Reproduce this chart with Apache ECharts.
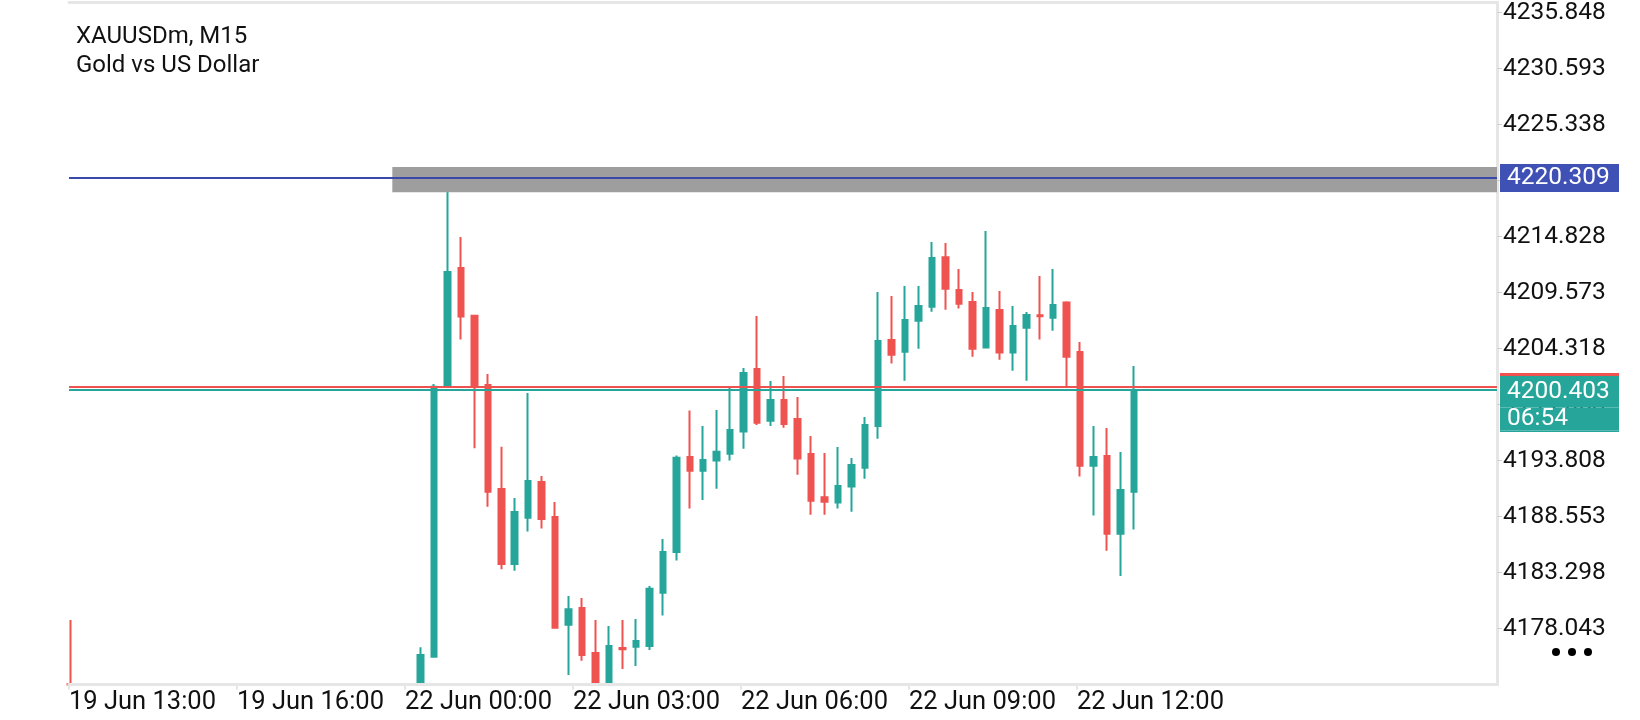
<!DOCTYPE html>
<html>
<head>
<meta charset="utf-8">
<script src="https://cdn.jsdelivr.net/npm/echarts@6.0.0/dist/echarts.min.js"></script>
<style>
  html, body { margin: 0; padding: 0; background: #ffffff; }
  #main { width: 1640px; height: 720px; }
</style>
</head>
<body>
<div id="main"></div>
<script>
// ---------- DATA ----------
const symbolTitle = 'XAUUSDm, M15';
const symbolName = 'Gold vs US Dollar';

// number of 15-minute bar slots across the plot
const slotCount = 106;
// slot index of each visible candle
const barPos = [0, 26, 27, 28, 29, 30, 31, 32, 33, 34, 35, 36, 37, 38, 39, 40, 41, 42, 43, 44, 45, 46, 47, 48, 49, 50,
  51, 52, 53, 54, 55, 56, 57, 58, 59, 60, 61, 62, 63, 64, 65, 66, 67, 68, 69, 70, 71, 72, 73, 74, 75, 76, 77, 78, 79];
// values below the visible price range are held at the bottom edge of the view
const opens = [4172.80, 4172.79, 4175.40, 4200.79, 4211.86, 4207.39, 4200.89, 4191.13, 4184.09, 4188.44, 4191.78, 4188.50,
  4178.40, 4179.97, 4175.74, 4172.79, 4176.21, 4176.34, 4176.40, 4181.40, 4185.22, 4194.13, 4192.85, 4193.79, 4194.44,
  4196.51, 4202.39, 4197.54, 4199.48, 4197.70, 4194.41, 4190.35, 4189.85, 4191.35, 4193.13, 4197.04, 4205.11, 4204.01,
  4206.92, 4208.23, 4212.86, 4209.80, 4208.67, 4204.39, 4207.92, 4203.92, 4206.26, 4207.42, 4207.20, 4208.61, 4203.98,
  4193.31, 4194.22, 4186.94, 4190.88];
const closes = [4172.79, 4175.56, 4200.73, 4211.49, 4207.30, 4200.73, 4190.88, 4184.09, 4188.97, 4191.88, 4188.31, 4178.12,
  4179.84, 4175.56, 4172.79, 4176.40, 4176.09, 4176.87, 4181.78, 4185.22, 4194.07, 4192.85, 4193.85, 4194.63, 4196.66,
  4202.01, 4197.35, 4199.48, 4197.23, 4193.98, 4190.03, 4189.94, 4191.41, 4193.38, 4197.13, 4205.01, 4203.73, 4206.98,
  4208.30, 4212.80, 4209.92, 4208.51, 4204.29, 4208.11, 4203.92, 4206.42, 4207.45, 4207.33, 4208.39, 4203.54, 4193.31,
  4194.13, 4186.94, 4191.03, 4200.403];
const lows = [4172.79, 4172.79, 4175.40, 4200.79, 4205.14, 4194.94, 4189.47, 4183.59, 4183.47, 4187.13, 4187.41, 4178.12,
  4173.68, 4175.02, 4172.79, 4172.79, 4174.25, 4174.53, 4176.03, 4179.25, 4184.41, 4189.29, 4190.10, 4191.16, 4193.79,
  4194.91, 4197.13, 4197.04, 4196.88, 4192.47, 4188.72, 4188.72, 4189.29, 4189.00, 4192.10, 4195.85, 4202.89, 4201.29,
  4204.29, 4207.76, 4207.95, 4208.05, 4203.54, 4204.39, 4203.26, 4202.23, 4201.29, 4205.14, 4205.98, 4200.73, 4192.29,
  4188.63, 4185.34, 4182.97, 4187.32];
const highs = [4178.84, 4176.28, 4200.98, 4219.02, 4214.77, 4207.45, 4201.92, 4195.10, 4190.28, 4200.13, 4192.35, 4189.91,
  4181.09, 4180.90, 4178.84, 4178.27, 4178.84, 4178.93, 4182.03, 4186.44, 4194.26, 4198.48, 4197.04, 4198.54, 4200.73,
  4202.48, 4207.36, 4201.26, 4201.73, 4199.76, 4196.10, 4194.50, 4195.07, 4194.04, 4197.88, 4209.61, 4209.23, 4210.17,
  4210.17, 4214.30, 4214.21, 4211.77, 4209.61, 4215.33, 4209.70, 4208.30, 4207.73, 4211.11, 4211.77, 4208.73, 4204.92,
  4197.04, 4196.85, 4194.60, 4202.67];

// price axis
const yMin = 4172.788;
const yMax = 4236.81;
const yTicks = [4178.043, 4183.298, 4188.553, 4193.808, 4199.063, 4204.318, 4209.573, 4214.828, 4220.083, 4225.338, 4230.593, 4235.848];

// time labels (one every label slot)
const timeLabels = ['19 Jun 13:00', '19 Jun 16:00', '22 Jun 00:00', '22 Jun 03:00', '22 Jun 06:00', '22 Jun 09:00', '22 Jun 12:00'];
const labelSlots = [0, 1, 2, 3, 4, 5, 6];
const labelSlotMax = 8.5;

// horizontal levels
const levelLine = 4220.309;
const askPrice = 4200.69;
const bidPrice = 4200.403;
const barCountdown = '06:54';
const zoneTop = 4221.34;
const zoneBottom = 4218.99;
const zoneStartBar = 24;

// ---------- STYLE ----------
const UP = '#26A69A';
const DOWN = '#EF5350';
const BLUE_LINE = '#3949AB';
const BLUE_BOX = '#3F51B5';
const FRAME = '#E6E6E6';
const FONT = 'Roboto';
const NUM_FS = 24.5;

const slots = Array.from({ length: slotCount }, (_, i) => 'b' + i);
const candleData = slots.map(() => '-');
barPos.forEach((p, k) => { candleData[p] = [opens[k], closes[k], lows[k], highs[k]]; });

const boxW = 112;
const boxPad = [0, 0, 0, 7];
function row(h, fs, bg) {
  const o = { lineHeight: h, height: h, fontSize: fs, width: boxW, padding: boxPad, color: '#ffffff', fontFamily: FONT, align: 'left' };
  if (bg) o.backgroundColor = bg;
  return o;
}

const chart = echarts.init(document.getElementById('main'));
chart.setOption({
  animation: false,
  backgroundColor: '#ffffff',
  title: {
    text: symbolTitle + '\n' + symbolName,
    left: 71, top: 17,
    textStyle: { fontFamily: FONT, fontSize: 24, fontWeight: 'normal', color: '#111111', lineHeight: 29 }
  },
  grid: [
    { left: 69, right: 143, top: 2, bottom: 35.5 },          // frame, axes, levels
    { left: 63.77, width: 106 * 13.462, top: 2, bottom: 35.5 } // candles
  ],
  xAxis: [
    {
      gridIndex: 0, type: 'category', data: slots.concat(['b' + slotCount]), boundaryGap: false, position: 'bottom',
      z: 10,
      axisLine: { show: true, onZero: false, lineStyle: { color: FRAME, width: 3 } },
      axisTick: { show: false }, axisLabel: { show: false }, splitLine: { show: false }
    },
    {
      gridIndex: 0, type: 'value', min: 0, max: labelSlotMax, position: 'bottom',
      axisLine: { show: false, onZero: false },
      axisTick: { show: true, customValues: labelSlots, length: 5, lineStyle: { color: FRAME, width: 2 } },
      axisLabel: {
        show: true, customValues: labelSlots, align: 'left', margin: 5,
        fontFamily: FONT, fontSize: 25.5, color: '#111111',
        formatter: v => timeLabels[Math.round(v)] || ''
      },
      splitLine: { show: false }
    },
    {
      gridIndex: 0, type: 'value', min: 0, max: 1, position: 'top',
      axisLine: { show: true, onZero: false, lineStyle: { color: FRAME, width: 3 } },
      axisTick: { show: false }, axisLabel: { show: false }, splitLine: { show: false }
    },
    {
      gridIndex: 1, type: 'category', data: slots, boundaryGap: true, show: false
    }
  ],
  yAxis: [
    {
      gridIndex: 0, type: 'value', position: 'right', min: yMin, max: yMax, scale: true,
      axisLine: { show: true, onZero: false, lineStyle: { color: FRAME, width: 3 } },
      axisTick: { show: true, customValues: yTicks, length: 5, lineStyle: { color: '#d0d0d0', width: 1 } },
      axisLabel: {
        customValues: yTicks, margin: 6, fontFamily: FONT, fontSize: NUM_FS, color: '#111111',
        padding: [6, 0, 0, 0],
        formatter: v => Number(v).toFixed(3)
      },
      splitLine: { show: false }
    },
    { gridIndex: 1, type: 'value', min: yMin, max: yMax, scale: true, show: false, splitLine: { show: false } }
  ],
  series: [
    {
      type: 'candlestick',
      xAxisIndex: 3, yAxisIndex: 1,
      z: 2,
      data: candleData,
      barWidth: 6,
      clip: true,
      itemStyle: { color: UP, color0: DOWN, borderColor: UP, borderColor0: DOWN, borderWidth: 2 }
    },
    {
      type: 'line',
      xAxisIndex: 0, yAxisIndex: 0,
      data: [],
      z: 3,
      symbol: 'none',
      markArea: {
        silent: true, z: 3,
        itemStyle: { color: '#9E9E9E', opacity: 1 },
        data: [[{ xAxis: zoneStartBar, yAxis: zoneTop }, { yAxis: zoneBottom }]]
      },
      markLine: {
        silent: true, symbol: ['none', 'none'], z: 5, precision: 3,
        data: [
          {
            yAxis: levelLine,
            lineStyle: { color: BLUE_LINE, width: 2, type: 'solid' },
            label: {
              show: true, position: 'end', distance: 3,
              formatter: '{b|' + levelLine.toFixed(3) + '}',
              rich: { b: row(28, NUM_FS, BLUE_BOX) }
            }
          },
          {
            yAxis: askPrice,
            lineStyle: { color: DOWN, width: 2, type: 'solid' },
            label: { show: false }
          },
          {
            yAxis: bidPrice,
            lineStyle: { color: UP, width: 2, type: 'solid' },
            label: {
              show: true, position: 'end', distance: 3,
              formatter: '{sp| }\n{r| }\n{g1|' + bidPrice.toFixed(3) + '}\n{g2|' + barCountdown + '}\n{g3| }',
              rich: {
                sp: row(24.8, 2, null),
                r: row(3, 2, DOWN),
                g1: row(31.5, NUM_FS, UP),
                g2: row(23, NUM_FS, UP),
                g3: row(1.5, 2, UP)
              }
            }
          }
        ]
      }
    }
  ],
  graphic: [
    { type: 'circle', left: 1552, top: 648, shape: { r: 4 }, style: { fill: '#000' } },
    { type: 'circle', left: 1568, top: 648, shape: { r: 4 }, style: { fill: '#000' } },
    { type: 'circle', left: 1584, top: 648, shape: { r: 4 }, style: { fill: '#000' } }
  ]
});
</script>
</body>
</html>
